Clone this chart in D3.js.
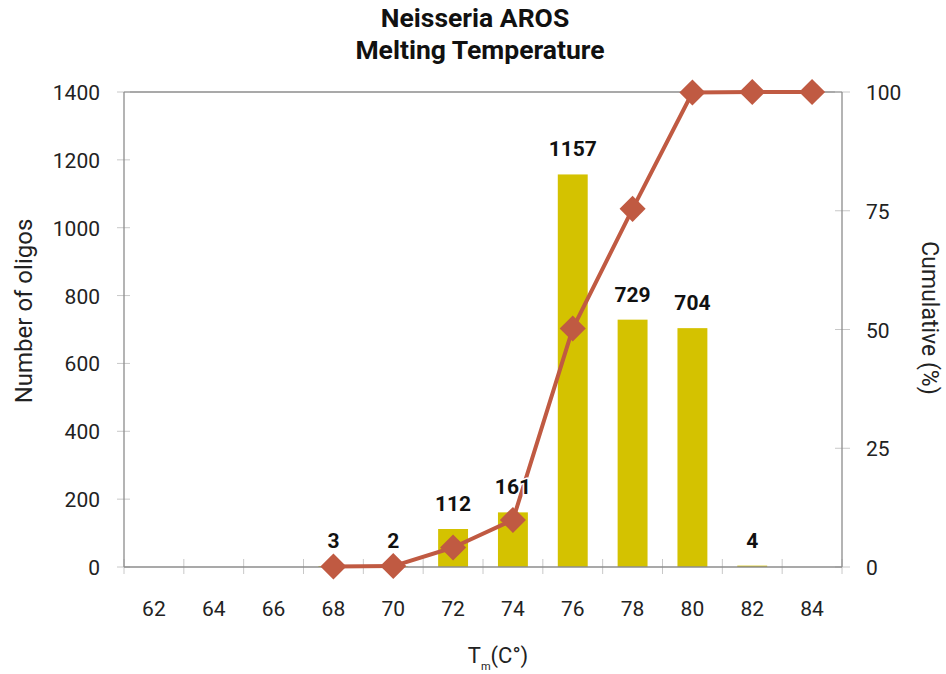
<!DOCTYPE html>
<html>
<head>
<meta charset="utf-8">
<script src="https://cdn.jsdelivr.net/npm/d3@7"></script>
<style>
  html, body { margin: 0; padding: 0; background: #fff; }
  svg { display: block; font-family: Roboto, "Noto Sans", sans-serif; }
</style>
</head>
<body>
<svg id="chart" width="946" height="674"></svg>
<script>
// Melting temperature bins (°C)
const categories = ["62", "64", "66", "68", "70", "72", "74", "76", "78", "80", "82", "84"];
// Number of oligos per bin
const counts = [0, 0, 0, 3, 2, 112, 161, 1157, 729, 704, 4, 0];
// Cumulative share (%) per bin; no marker for the empty leading bins
const cumulative = [null, null, null, 0.1, 0.2, 4.1, 9.9, 50.2, 75.4, 99.9, 100, 100];
// Axis tick values
const leftTicks = [0, 200, 400, 600, 800, 1000, 1200, 1400];
const rightTicks = [0, 25, 50, 75, 100];

const svg = d3.select("#chart");
const plotLeft = 124, plotRight = 842, plotTop = 92, plotBottom = 567;

const x = d3.scaleBand().domain(categories).range([plotLeft, plotRight])
  .paddingInner(0.5).paddingOuter(0.25);
const yL = d3.scaleLinear().domain([0, 1400]).range([plotBottom, plotTop]);
const yR = d3.scaleLinear().domain([0, 100]).range([plotBottom, plotTop]);
const step = x.step();
const cx = c => x(c) + x.bandwidth() / 2;

const barColor = "#d4c200";
const lineColor = "#c05a42";
const axisColor = "#8c8c8c";
const tickColor = "#c8c8c8";

// Frame: top border
svg.append("line").attr("x1", plotLeft).attr("x2", plotRight).attr("y1", plotTop).attr("y2", plotTop)
  .attr("stroke", axisColor).attr("stroke-width", 1.3);

// Left axis ticks (crossing the axis line)
svg.append("g").selectAll("line").data(leftTicks).join("line")
  .attr("x1", plotLeft - 7).attr("x2", plotLeft + 6)
  .attr("y1", d => yL(d)).attr("y2", d => yL(d))
  .attr("stroke", tickColor).attr("stroke-width", 1);
// Right axis ticks
svg.append("g").selectAll("line").data(rightTicks).join("line")
  .attr("x1", plotRight - 7).attr("x2", plotRight + 8)
  .attr("y1", d => yR(d)).attr("y2", d => yR(d))
  .attr("stroke", tickColor).attr("stroke-width", 1);
// X ticks at bin boundaries
svg.append("g").selectAll("line").data(d3.range(categories.length + 1)).join("line")
  .attr("x1", i => plotLeft + i * step).attr("x2", i => plotLeft + i * step)
  .attr("y1", plotBottom - 8).attr("y2", plotBottom + 7)
  .attr("stroke", tickColor).attr("stroke-width", 1);

svg.append("line").attr("x1", plotLeft).attr("x2", plotLeft).attr("y1", plotTop).attr("y2", plotBottom)
  .attr("stroke", axisColor).attr("stroke-width", 1.3);
svg.append("line").attr("x1", plotRight).attr("x2", plotRight).attr("y1", plotTop).attr("y2", plotBottom)
  .attr("stroke", axisColor).attr("stroke-width", 1.3);

// Bars
svg.append("g").selectAll("rect").data(categories).join("rect")
  .attr("x", c => x(c))
  .attr("width", x.bandwidth())
  .attr("y", (c, i) => yL(counts[i]))
  .attr("height", (c, i) => plotBottom - yL(counts[i]))
  .attr("fill", barColor);

svg.append("line").attr("x1", plotLeft).attr("x2", plotRight).attr("y1", plotBottom).attr("y2", plotBottom)
  .attr("stroke", axisColor).attr("stroke-width", 1.3);

// Cumulative line with diamond markers
const pts = categories.map((c, i) => ({ c, v: cumulative[i] })).filter(d => d.v !== null);
const line = d3.line().x(d => cx(d.c)).y(d => yR(d.v));
svg.append("path").datum(pts).attr("d", line)
  .attr("fill", "none").attr("stroke", lineColor).attr("stroke-width", 4)
  .attr("stroke-linejoin", "round");
svg.append("g").selectAll("path").data(pts).join("path")
  .attr("d", d3.symbol(d3.symbolSquare, 340))
  .attr("transform", d => `translate(${cx(d.c)},${yR(d.v)}) rotate(45)`)
  .attr("fill", lineColor);

// Value labels above non-empty bins (drawn over the line)
const labelled = categories.map((c, i) => ({ c, v: counts[i] })).filter(d => d.v > 0);
svg.append("g").selectAll("text").data(labelled).join("text")
  .attr("x", d => cx(d.c))
  .attr("y", d => yL(d.v) - 18)
  .attr("text-anchor", "middle")
  .attr("font-size", 21).attr("font-weight", 700).attr("fill", "#111")
  .attr("stroke", "#fff").attr("stroke-width", 3).attr("paint-order", "stroke")
  .text(d => d.v);

// Tick labels
svg.append("g").selectAll("text").data(leftTicks).join("text")
  .attr("x", 100).attr("y", d => yL(d) + 8)
  .attr("text-anchor", "end").attr("font-size", 21).attr("fill", "#222")
  .text(d => d);
svg.append("g").selectAll("text").data(rightTicks).join("text")
  .attr("x", 866).attr("y", d => yR(d) + 8)
  .attr("text-anchor", "start").attr("font-size", 21).attr("fill", "#222")
  .text(d => d);
svg.append("g").selectAll("text").data(categories).join("text")
  .attr("x", c => cx(c)).attr("y", 616)
  .attr("text-anchor", "middle").attr("font-size", 21).attr("fill", "#222")
  .text(c => c);

// Axis titles
svg.append("text")
  .attr("transform", "translate(32,311) rotate(-90)")
  .attr("text-anchor", "middle").attr("font-size", 24).attr("fill", "#222")
  .text("Number of oligos");
svg.append("text")
  .attr("transform", "translate(922,318) rotate(90)")
  .attr("text-anchor", "middle").attr("font-size", 23).attr("fill", "#222")
  .text("Cumulative (%)");
const xt = svg.append("text")
  .attr("x", 498).attr("y", 663)
  .attr("text-anchor", "middle").attr("font-size", 22).attr("fill", "#222");
xt.append("tspan").text("T");
xt.append("tspan").attr("font-size", 11).attr("dy", 7).text("m");
xt.append("tspan").attr("dy", -7).text("(C°)");

// Title
const title = svg.append("text").attr("text-anchor", "middle")
  .attr("font-size", 26.5).attr("font-weight", 700).attr("fill", "#111");
title.append("tspan").attr("x", 475).attr("y", 27).text("Neisseria AROS");
title.append("tspan").attr("x", 480).attr("y", 59).text("Melting Temperature");
</script>
</body>
</html>
